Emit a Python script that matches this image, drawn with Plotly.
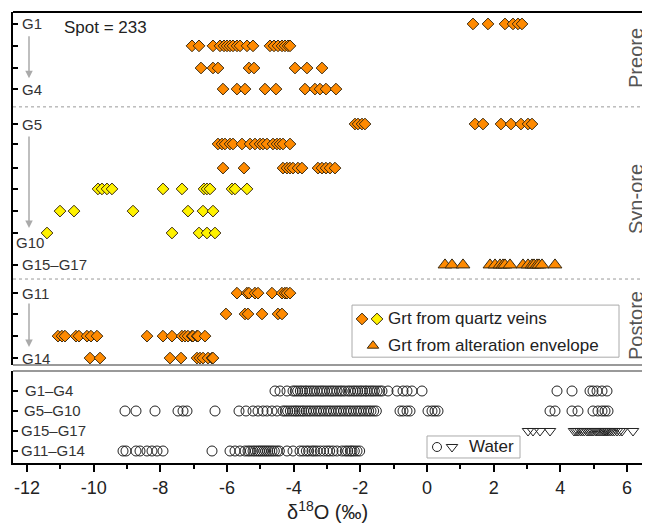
import plotly.graph_objects as go

# ---------------- data ----------------
# Top panel: garnet δ18O values per growth zone (rows)
row_labels = ["G1", "G2", "G3", "G4", "G5", "G6", "G7", "G8", "G9", "G10",
              "G15–G17", "G11", "G12", "G13", "G14"]
row_pos = [1.0, 2.01, 3.03, 4.0, 5.61, 6.53, 7.64, 8.6, 9.62, 10.63,
           12.1, 13.4, 14.36, 15.38, 16.39]

g1 = [1.38, 1.83, 2.34, 2.58, 2.73, 2.85]
g2 = [-7.05, -6.84, -6.42, -6.21, -6.09, -6.0, -5.91, -5.82, -5.7, -5.61, -5.4, -5.22,
      -4.71, -4.59, -4.47, -4.35, -4.26, -4.17, -4.11]
g3 = [-6.78, -6.42, -6.27, -5.34, -5.19, -3.96, -3.6, -3.15]
g4 = [-6.12, -5.7, -5.46, -4.86, -4.53, -3.66, -3.36, -3.21, -3.03, -2.73]
g5 = [-2.16, -2.07, -1.95, -1.86, 1.44, 1.68, 2.22, 2.52, 2.82, 3.03, 3.15]
g6 = [-6.27, -6.15, -6.06, -5.91, -5.82, -5.55, -5.31, -5.16, -5.01, -4.92, -4.8,
      -4.62, -4.5, -4.41, -4.32, -4.11]
g7 = [-6.12, -5.49, -4.32, -4.2, -4.11, -4.02, -3.87, -3.75, -3.27, -3.15, -3.03,
      -2.91, -2.76]
g8 = [-9.87, -9.75, -9.6, -9.45, -7.92, -7.35, -6.69, -6.6, -6.51, -5.85, -5.76, -5.4]
g9 = [-11.01, -10.59, -8.82, -7.17, -6.72, -6.42]
g10 = [-11.4, -7.65, -6.84, -6.6, -6.36]
g15_17 = [0.54, 0.75, 1.08, 1.89, 2.04, 2.19, 2.28, 2.34, 2.49, 2.88, 3.03, 3.15,
          3.21, 3.3, 3.36, 3.45, 3.84]
g11 = [-5.7, -5.4, -5.34, -5.16, -5.07, -4.65, -4.35, -4.26, -4.2, -4.11]
g12 = [-6.03, -5.46, -5.37, -4.95, -4.47, -4.35]
g13 = [-11.07, -10.95, -10.86, -10.53, -10.44, -10.2, -10.08, -9.9, -8.4, -7.92,
       -7.65, -7.35, -7.26, -7.17, -7.05, -7.02, -6.9, -6.87, -6.66]
g14 = [-10.11, -9.81, -7.71, -7.38, -6.9, -6.81, -6.72, -6.57, -6.45, -6.42]

# Bottom panel: calculated water δ18O
water_labels = ["G1–G4", "G5–G10", "G15–G17", "G11–G14"]
water_pos = [1, 2, 3, 4]
w_g1_g4 = [-4.56, -4.41, -4.2, -4.02, -3.95, -3.88, -3.8, -3.74, -3.66, -3.6, -3.52,
           -3.45, -3.38, -3.3, -3.22, -3.15, -3.08, -3.0, -2.92, -2.85, -2.78, -2.7,
           -2.62, -2.55, -2.47, -2.37, -2.3, -2.22, -2.15, -2.08, -2.0, -1.94, -1.86,
           -1.8, -1.72, -1.65, -1.58, -1.5, -1.42, -1.35, -1.17, -0.9, -0.72, -0.6,
           -0.45, -0.15, 3.9, 4.35, 4.89, 4.98, 5.1, 5.25, 5.4]
w_g5_g10 = [-9.06, -8.73, -8.16, -7.47, -7.32, -7.2, -6.36, -5.64, -5.43, -5.22, -5.07,
            -4.92, -4.8, -4.65, -4.5, -4.32, -4.25, -4.18, -4.1, -4.03, -3.96, -3.9,
            -3.83, -3.76, -3.7, -3.62, -3.55, -3.48, -3.4, -3.32, -3.25, -3.18, -3.1,
            -3.02, -2.95, -2.88, -2.8, -2.72, -2.65, -2.58, -2.5, -2.42, -2.35, -2.28,
            -2.2, -2.12, -2.05, -1.98, -1.9, -1.82, -1.75, -1.68, -1.6, -1.52, -0.81,
            -0.72, -0.6, -0.51, 0.03, 0.15, 0.24, 0.33, 3.69, 3.84, 4.35, 4.53, 4.98,
            5.13, 5.25, 5.34, 5.43]
w_g15_g17 = [3.03, 3.18, 3.39, 3.69, 4.41, 4.47, 4.53, 4.6, 4.66, 4.72, 4.8, 4.86, 4.92,
             4.98, 5.05, 5.1, 5.16, 5.22, 5.28, 5.32, 5.36, 5.4, 5.45, 5.5, 5.56, 5.62,
             5.7, 5.78, 5.85, 6.18]
w_g11_g14 = [-9.12, -9.03, -8.73, -8.61, -8.4, -8.25, -8.1, -7.92, -6.45, -5.91, -5.76,
             -5.61, -5.46, -5.37, -5.3, -5.22, -5.15, -5.08, -5.02, -4.96, -4.9, -4.84,
             -4.78, -4.72, -4.65, -4.58, -4.5, -4.43, -4.2, -4.02, -3.81, -3.72, -3.62,
             -3.55, -3.45, -3.38, -3.3, -3.2, -3.1, -3.0, -2.92, -2.82, -2.7, -2.55,
             -2.45, -2.38, -2.3, -2.25, -2.18, -2.1, -2.02]

x_tick_vals = [-12, -10, -8, -6, -4, -2, 0, 2, 4, 6]
x_tick_text = ["-12", "-10", "-8", "-6", "-4", "-2", "0", "2", "4", "6"]

# ---------------- styles ----------------
ORANGE = "#FF8A00"
YELLOW = "#FFF200"
EDGE = "#3a2a10"
FONT = "Arial, Liberation Sans, sans-serif"
LBL = "#333333"

fig = go.Figure()

orange_rows = {"G1": g1, "G2": g2, "G3": g3, "G4": g4, "G5": g5, "G6": g6, "G7": g7,
               "G11": g11, "G12": g12, "G13": g13, "G14": g14}
yellow_rows = {"G8": g8, "G9": g9, "G10": g10}
pos_of = dict(zip(row_labels, row_pos))

for name, vals in orange_rows.items():
    fig.add_trace(go.Scatter(
        x=vals, y=[pos_of[name]] * len(vals), mode="markers", xaxis="x", yaxis="y",
        marker=dict(symbol="diamond", size=9, color=ORANGE, line=dict(color=EDGE, width=1)),
        showlegend=False, hoverinfo="x"))
for name, vals in yellow_rows.items():
    fig.add_trace(go.Scatter(
        x=vals, y=[pos_of[name]] * len(vals), mode="markers", xaxis="x", yaxis="y",
        marker=dict(symbol="diamond", size=9, color=YELLOW, line=dict(color=EDGE, width=1)),
        showlegend=False, hoverinfo="x"))
fig.add_trace(go.Scatter(
    x=g15_17, y=[pos_of["G15–G17"]] * len(g15_17), mode="markers", xaxis="x", yaxis="y",
    marker=dict(symbol="triangle-up", size=12, color=ORANGE, line=dict(color=EDGE, width=1)),
    showlegend=False, hoverinfo="x"))

# water
for vals, p in [(w_g1_g4, 1), (w_g5_g10, 2), (w_g11_g14, 4)]:
    fig.add_trace(go.Scatter(
        x=vals, y=[p] * len(vals), mode="markers", xaxis="x2", yaxis="y2",
        marker=dict(symbol="circle-open", size=10, color="#222222", line=dict(width=1)),
        showlegend=False, hoverinfo="x"))
fig.add_trace(go.Scatter(
    x=w_g15_g17, y=[3] * len(w_g15_g17), mode="markers", xaxis="x2", yaxis="y2",
    marker=dict(symbol="triangle-down-open", size=10, color="#222222", line=dict(width=1)),
    showlegend=False, hoverinfo="x"))

# legend glyphs (custom legend boxes)
fig.add_trace(go.Scatter(x=[-1.95], y=[14.59], mode="markers", xaxis="x", yaxis="y",
                         marker=dict(symbol="diamond", size=9, color=ORANGE, line=dict(color=EDGE, width=1)),
                         showlegend=False, hoverinfo="skip"))
fig.add_trace(go.Scatter(x=[-1.5], y=[14.59], mode="markers", xaxis="x", yaxis="y",
                         marker=dict(symbol="diamond", size=9, color=YELLOW, line=dict(color=EDGE, width=1)),
                         showlegend=False, hoverinfo="skip"))
fig.add_trace(go.Scatter(x=[-1.62], y=[15.82], mode="markers", xaxis="x", yaxis="y",
                         marker=dict(symbol="triangle-up", size=10, color=ORANGE, line=dict(color=EDGE, width=1)),
                         showlegend=False, hoverinfo="skip"))
fig.add_trace(go.Scatter(x=[0.3], y=[3.8], mode="markers", xaxis="x2", yaxis="y2",
                         marker=dict(symbol="circle-open", size=9, color="#222222", line=dict(width=1)),
                         showlegend=False, hoverinfo="skip"))
fig.add_trace(go.Scatter(x=[0.75], y=[3.8], mode="markers", xaxis="x2", yaxis="y2",
                         marker=dict(symbol="triangle-down-open", size=10, color="#222222", line=dict(width=1)),
                         showlegend=False, hoverinfo="skip"))

XR = [-12.42, 6.69]
TOP_DOM = [0.2173, 1.0]
BOT_DOM = [0.0, 0.204]

# the page body adds an 8px offset, so the figure is sized to fit the window
fig.update_layout(
    width=642, height=519,
    margin=dict(l=5, r=0, t=4, b=64),
    paper_bgcolor="white", plot_bgcolor="white",
    font=dict(family=FONT, color=LBL),
    xaxis=dict(domain=[0, 1], range=XR, anchor="y", showticklabels=False, ticks="",
               showgrid=False, zeroline=False, showline=False),
    yaxis=dict(domain=TOP_DOM, range=[16.71, 0.45], tickvals=row_pos,
               ticktext=[""] * len(row_pos), ticks="inside", ticklen=5, tickwidth=1.5,
               tickcolor="black", showline=True, linecolor="black", linewidth=2,
               showgrid=False, zeroline=False),
    xaxis2=dict(domain=[0, 1], range=XR, anchor="y2", tickvals=x_tick_vals,
                ticktext=x_tick_text, ticks="outside", ticklen=7, tickwidth=2,
                tickcolor="black", showline=True, linecolor="black", linewidth=2,
                showgrid=False, zeroline=False,
                tickfont=dict(size=18, color="#222222"),
                minor=dict(ticks="outside", ticklen=4, tickwidth=2, tickcolor="black",
                           dtick=1, tick0=0, showgrid=False)),
    yaxis2=dict(domain=BOT_DOM, range=[4.6, 0], tickvals=water_pos,
                ticktext=[""] * 4, ticks="inside", ticklen=5, tickwidth=1.5,
                tickcolor="black", showline=True, linecolor="black", linewidth=2,
                showgrid=False, zeroline=False),
)

shapes = [
    dict(type="line", xref="paper", yref="paper", x0=0, x1=1, y0=1, y1=1,
         line=dict(color="black", width=2)),
    dict(type="line", xref="paper", yref="y domain", x0=0, x1=1, y0=0, y1=0,
         line=dict(color="#999999", width=2)),
    dict(type="line", xref="paper", yref="y2 domain", x0=0, x1=1, y0=1, y1=1,
         line=dict(color="#999999", width=2)),
    dict(type="line", xref="paper", yref="y", x0=0, x1=1, y0=4.82, y1=4.82,
         line=dict(color="#999999", width=1, dash="dot")),
    dict(type="line", xref="paper", yref="y", x0=0, x1=1, y0=12.75, y1=12.75,
         line=dict(color="#999999", width=1, dash="dot")),
    dict(type="rect", xref="x", yref="y", x0=-2.25, x1=5.76, y0=13.95, y1=16.35,
         line=dict(color="#aaaaaa", width=1), fillcolor="white", layer="below"),
    dict(type="rect", xref="x2", yref="y2", x0=0.0, x1=2.79, y0=3.25, y1=4.35,
         line=dict(color="#aaaaaa", width=1), fillcolor="white", layer="below"),
]
fig.update_layout(shapes=shapes)

ann = []
for lab, ypos in [("G1", 1.0), ("G4", 4.0), ("G5", 5.61), ("G15–G17", 12.1),
                  ("G11", 13.4), ("G14", 16.39)]:
    ann.append(dict(text=lab, xref="paper", yref="y", x=0.011, y=ypos, xanchor="left",
                    yanchor="middle", showarrow=False, font=dict(size=15, color=LBL)))
ann.append(dict(text="G10", xref="paper", yref="y", x=0.002, y=11.05, xanchor="left",
                yanchor="middle", showarrow=False, font=dict(size=15, color=LBL)))
for lab, ypos, xp in [("G1–G4", 1, 0.016), ("G5–G10", 2, 0.014),
                      ("G15–G17", 3, 0.009), ("G11–G14", 4, 0.009)]:
    ann.append(dict(text=lab, xref="paper", yref="y2", x=xp, y=ypos, xanchor="left",
                    yanchor="middle", showarrow=False, font=dict(size=15, color=LBL)))
for y0, y1 in [(1.5, 3.5), (6.12, 10.4), (13.81, 15.88)]:
    ann.append(dict(x=-11.94, y=y1, ax=-11.94, ay=y0, xref="x", yref="y", axref="x",
                    ayref="y", text="", showarrow=True, arrowhead=2, arrowsize=1,
                    arrowwidth=1.5, arrowcolor="#aaaaaa"))
ann.append(dict(text="Spot = 233", xref="x", yref="y", x=-10.95, y=1.15, xanchor="left",
                yanchor="middle", showarrow=False, font=dict(size=17, color="#222222")))
for lab, ypix in [("Preore", 58), ("Syn-ore", 199), ("Postore", 325)]:
    ann.append(dict(text=lab, xref="paper", yref="paper", x=0.978,
                    y=(463 - ypix) / 451, textangle=-90, xanchor="center",
                    yanchor="middle", showarrow=False, font=dict(size=20, color="#555555")))
ann.append(dict(text="Grt from quartz veins", xref="x", yref="y", x=-1.22, y=14.59,
                xanchor="left", yanchor="middle", showarrow=False,
                font=dict(size=17, color="#222222")))
ann.append(dict(text="Grt from alteration envelope", xref="x", yref="y", x=-1.22, y=15.8,
                xanchor="left", yanchor="middle", showarrow=False,
                font=dict(size=17, color="#222222")))
ann.append(dict(text="Water", xref="x2", yref="y2", x=1.2, y=3.8,
                xanchor="left", yanchor="middle", showarrow=False,
                font=dict(size=17, color="#222222")))
ann.append(dict(text="δ<sup>18</sup>O (‰)", xref="paper", yref="paper", x=0.4945,
                y=(463 - 510) / 451, xanchor="center", yanchor="middle", showarrow=False,
                font=dict(size=20, color="#222222")))
fig.update_layout(annotations=ann)

fig.write_html("out.html")
